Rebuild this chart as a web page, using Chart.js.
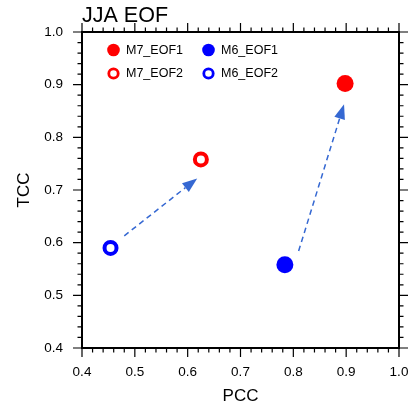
<!DOCTYPE html>
<html>
<head>
<meta charset="utf-8">
<script src="https://cdn.jsdelivr.net/npm/chart.js@4/dist/chart.umd.min.js"></script>
<style>
  html, body { margin: 0; padding: 0; background: #ffffff; }
  #wrap { width: 411px; height: 408px; }
</style>
</head>
<body>
<div id="wrap"><canvas id="c" width="411" height="408"></canvas></div>
<script>
// Skill scores of the two leading JJA EOF modes for the M6 and M7 models
const seriesNames = ['M7_EOF1', 'M6_EOF1', 'M7_EOF2', 'M6_EOF2'];
const pccValues   = [0.898, 0.784, 0.625, 0.454];
const tccValues   = [0.902, 0.558, 0.758, 0.590];

// Dashed arrows showing the change from M6 to M7 (data coordinates)
const arrowStartPcc = [0.480, 0.810];
const arrowStartTcc = [0.613, 0.584];
const arrowEndPcc   = [0.618, 0.896];
const arrowEndTcc   = [0.722, 0.863];

// Axis tick labels
const xTickValues = [0.4, 0.5, 0.6, 0.7, 0.8, 0.9, 1.0];
const yTickValues = [0.4, 0.5, 0.6, 0.7, 0.8, 0.9, 1.0];

const FONT = '"Liberation Sans", Arial, Helvetica, sans-serif';
const RED = '#ff0000';
const BLUE = '#0000ff';
const ARROW = '#3568d2';

const styles = [
  { color: RED,  filled: true },
  { color: BLUE, filled: true },
  { color: RED,  filled: false },
  { color: BLUE, filled: false }
];

const datasets = seriesNames.map((name, i) => {
  const s = styles[i];
  return {
    label: name,
    data: [{ x: pccValues[i], y: tccValues[i] }],
    pointStyle: 'circle',
    pointRadius: s.filled ? 8.5 : 6,
    pointHoverRadius: s.filled ? 8.5 : 6,
    borderWidth: s.filled ? 0 : 4,
    pointBorderWidth: s.filled ? 0 : 4,
    backgroundColor: s.filled ? s.color : '#ffffff',
    borderColor: s.color,
    filled: s.filled
  };
});

// Frame with outward major/minor ticks on all four sides, plus the title
const framePlugin = {
  id: 'frame',
  afterDraw(chart) {
    const { ctx, chartArea: a, scales } = chart;
    const xs = scales.x, ys = scales.y;
    ctx.save();
    ctx.strokeStyle = '#000000';
    ctx.lineWidth = 1.2;
    const major = 9, minor = 4.5;
    ctx.beginPath();
    for (let k = 0; k <= 30; k++) {
      const v = 0.4 + k * 0.02;
      const len = (k % 5 === 0) ? major : minor;
      const px = xs.getPixelForValue(v);
      ctx.moveTo(px, a.bottom); ctx.lineTo(px, a.bottom + len);
      ctx.moveTo(px, a.top);    ctx.lineTo(px, a.top - len);
      const py = ys.getPixelForValue(v);
      ctx.moveTo(a.left, py);   ctx.lineTo(a.left - len, py);
      ctx.moveTo(a.right, py);  ctx.lineTo(a.right + len, py);
    }
    ctx.stroke();
    ctx.lineWidth = 2;
    ctx.strokeRect(a.left, a.top, a.right - a.left, a.bottom - a.top);

    ctx.fillStyle = '#000000';
    ctx.font = '21.5px ' + FONT;
    ctx.textAlign = 'left';
    ctx.textBaseline = 'alphabetic';
    ctx.fillText('JJA EOF', a.left, 21.5);
    ctx.restore();
  }
};

// Dashed arrows drawn through the scales
const arrowPlugin = {
  id: 'arrows',
  beforeDatasetsDraw(chart) {
    const { ctx, scales } = chart;
    ctx.save();
    for (let i = 0; i < arrowStartPcc.length; i++) {
      const x0 = scales.x.getPixelForValue(arrowStartPcc[i]);
      const y0 = scales.y.getPixelForValue(arrowStartTcc[i]);
      const x1 = scales.x.getPixelForValue(arrowEndPcc[i]);
      const y1 = scales.y.getPixelForValue(arrowEndTcc[i]);
      const ang = Math.atan2(y1 - y0, x1 - x0);
      const headLen = 15, headW = 5.5;
      const bx = x1 - headLen * Math.cos(ang);
      const by = y1 - headLen * Math.sin(ang);
      ctx.strokeStyle = ARROW;
      ctx.lineWidth = 1.5;
      ctx.setLineDash([5.5, 4]);
      ctx.beginPath();
      ctx.moveTo(x0, y0);
      ctx.lineTo(bx, by);
      ctx.stroke();
      ctx.setLineDash([]);
      ctx.fillStyle = ARROW;
      ctx.beginPath();
      ctx.moveTo(x1, y1);
      ctx.lineTo(bx + headW * Math.sin(ang), by - headW * Math.cos(ang));
      ctx.lineTo(bx - headW * Math.sin(ang), by + headW * Math.cos(ang));
      ctx.closePath();
      ctx.fill();
    }
    ctx.restore();
  }
};

// Two-column legend inside the plot area
const legendPlugin = {
  id: 'innerLegend',
  afterDraw(chart) {
    const { ctx, chartArea: a } = chart;
    ctx.save();
    ctx.font = '12.5px ' + FONT;
    ctx.textBaseline = 'middle';
    ctx.textAlign = 'left';
    chart.data.datasets.forEach((ds, i) => {
      const col = i % 2, row = Math.floor(i / 2);
      const cx = a.left + 31.5 + col * 95;
      const cy = a.top + 18 + row * 23.5;
      ctx.beginPath();
      if (ds.filled) {
        ctx.arc(cx, cy, 6.3, 0, Math.PI * 2);
        ctx.fillStyle = ds.borderColor;
        ctx.fill();
      } else {
        ctx.arc(cx, cy, 4.7, 0, Math.PI * 2);
        ctx.lineWidth = 2.8;
        ctx.strokeStyle = ds.borderColor;
        ctx.stroke();
      }
      ctx.fillStyle = '#000000';
      ctx.fillText(ds.label, cx + 12.5, cy + 0.5);
    });
    ctx.restore();
  }
};

new Chart(document.getElementById('c'), {
  type: 'scatter',
  data: { datasets },
  options: {
    responsive: false,
    animation: false,
    events: [],
    layout: { padding: { top: 32, right: 12, left: 0, bottom: 0 } },
    plugins: { legend: { display: false }, tooltip: { enabled: false }, title: { display: false } },
    scales: {
      x: {
        type: 'linear',
        min: 0.4, max: 1.0,
        grid: { display: false, drawTicks: false },
        border: { display: false },
        afterBuildTicks: s => { s.ticks = xTickValues.map(v => ({ value: v })); },
        afterFit: s => { s.height = 60; s.paddingLeft = 0; s.paddingRight = 0; },
        ticks: {
          padding: 16,
          color: '#000000',
          font: { family: FONT, size: 13.5 },
          maxRotation: 0,
          callback: v => Number(v).toFixed(1)
        },
        title: {
          display: true, text: 'PCC', color: '#000000',
          font: { family: FONT, size: 17 },
          padding: { top: 0, bottom: 1 }
        }
      },
      y: {
        type: 'linear',
        min: 0.4, max: 1.0,
        grid: { display: false, drawTicks: false },
        border: { display: false },
        afterBuildTicks: s => { s.ticks = yTickValues.map(v => ({ value: v })); },
        afterFit: s => { s.width = 82; s.paddingTop = 0; s.paddingBottom = 0; },
        ticks: {
          padding: 19,
          color: '#000000',
          font: { family: FONT, size: 13.5 },
          callback: v => Number(v).toFixed(1)
        },
        title: {
          display: true, text: 'TCC', color: '#000000',
          font: { family: FONT, size: 17 },
          padding: { top: 14, bottom: 0 }
        }
      }
    }
  },
  plugins: [arrowPlugin, framePlugin, legendPlugin]
});
</script>
</body>
</html>
